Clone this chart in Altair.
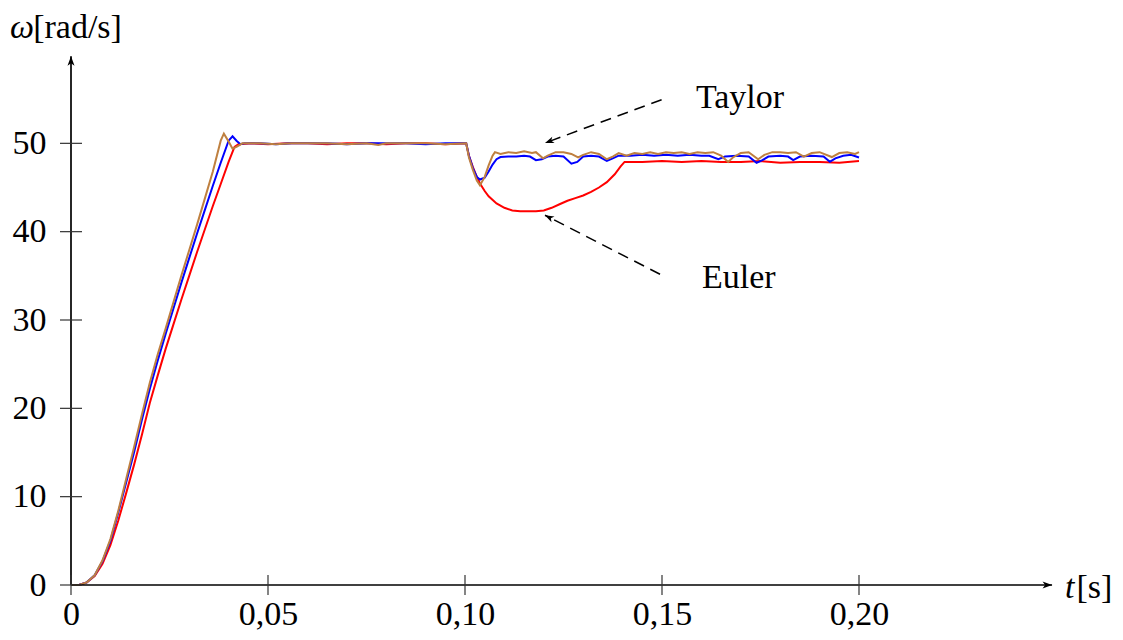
import math
import altair as alt
import pandas as pd

# ---------------- data ----------------
# Euler (red)
t_euler = [0, 0.002, 0.004, 0.006, 0.008, 0.010, 0.012, 0.014, 0.016, 0.018,
           0.020, 0.022, 0.024, 0.026, 0.028, 0.030, 0.032, 0.034, 0.036, 0.038,
           0.040, 0.0415, 0.0425, 0.046, 0.050, 0.055, 0.060, 0.065, 0.070, 0.075,
           0.080, 0.085, 0.090, 0.095, 0.1003, 0.101, 0.102, 0.103, 0.104, 0.105,
           0.106, 0.108, 0.110, 0.112, 0.114, 0.116, 0.118, 0.120, 0.122, 0.124,
           0.126, 0.128, 0.130, 0.132, 0.134, 0.136, 0.138, 0.1395, 0.1405, 0.145,
           0.150, 0.155, 0.160, 0.165, 0.170, 0.175, 0.180, 0.185, 0.190, 0.195,
           0.200]
w_euler = [0, 0, 0.3, 1.0, 2.4, 4.5, 7.3, 10.4, 13.6, 17.0,
           20.6, 23.7, 26.7, 29.5, 32.3, 35.0, 37.7, 40.3, 42.9, 45.4,
           47.9, 49.6, 49.9, 50.0, 49.9, 50.0, 50.0, 49.9, 50.0, 50.0,
           49.9, 50.0, 50.0, 49.9, 50.0, 48.6, 47.3, 46.2, 45.3, 44.6,
           44.0, 43.2, 42.7, 42.4, 42.3, 42.3, 42.3, 42.4, 42.7, 43.1,
           43.5, 43.8, 44.1, 44.5, 45.0, 45.6, 46.5, 47.4, 47.9, 47.9,
           48.0, 47.9, 48.0, 47.9, 47.9, 48.0, 47.8, 47.9, 47.9, 47.8,
           48.0]

# blue
t_blue = [0, 0.002, 0.004, 0.006, 0.008, 0.010, 0.012, 0.014, 0.016, 0.018,
          0.020, 0.022, 0.024, 0.026, 0.028, 0.030, 0.032, 0.034, 0.036, 0.038,
          0.040, 0.041, 0.042, 0.043, 0.044, 0.048, 0.052, 0.056, 0.060, 0.065,
          0.070, 0.075, 0.080, 0.085, 0.090, 0.095, 0.1003, 0.101, 0.102, 0.103,
          0.1038, 0.105, 0.106, 0.107, 0.108, 0.109, 0.111, 0.113, 0.115, 0.1165,
          0.118, 0.1195, 0.121, 0.123, 0.125, 0.127, 0.1285, 0.130, 0.132, 0.134,
          0.136, 0.1375, 0.139, 0.142, 0.145, 0.148, 0.151, 0.154, 0.157, 0.160,
          0.162, 0.1643, 0.166, 0.169, 0.172, 0.174, 0.1755, 0.177, 0.180, 0.182,
          0.1833, 0.185, 0.188, 0.191, 0.1926, 0.194, 0.196, 0.198, 0.200]
w_blue = [0, 0, 0.3, 1.1, 2.7, 5.0, 8.2, 11.6, 15.0, 18.7,
          22.2, 25.4, 28.4, 31.3, 34.2, 37.0, 39.8, 42.5, 45.2, 47.8,
          50.3, 50.8, 50.3, 49.9, 50.0, 50.0, 49.9, 50.0, 50.0, 50.0,
          49.9, 50.0, 50.0, 50.0, 49.9, 50.0, 50.0, 48.6, 47.2, 46.2,
          45.9, 46.1, 46.8, 47.6, 48.2, 48.45, 48.5, 48.5, 48.6, 48.5,
          48.1, 48.2, 48.5, 48.6, 48.5, 47.7, 47.9, 48.5, 48.6, 48.5,
          48.0, 48.3, 48.6, 48.6, 48.7, 48.6, 48.7, 48.6, 48.7, 48.6,
          48.6, 48.2, 48.5, 48.6, 48.5, 47.8, 48.1, 48.5, 48.6, 48.5,
          48.1, 48.5, 48.6, 48.5, 47.9, 48.3, 48.6, 48.7, 48.4]

# brown
t_brown = [0, 0.002, 0.004, 0.006, 0.008, 0.010, 0.012, 0.014, 0.016, 0.018,
           0.020, 0.022, 0.024, 0.026, 0.028, 0.030, 0.032, 0.034, 0.036, 0.038,
           0.0388, 0.040, 0.041, 0.042, 0.0435, 0.048, 0.052, 0.056, 0.060, 0.065,
           0.070, 0.075, 0.078, 0.080, 0.085, 0.090, 0.095, 0.1003, 0.101, 0.102,
           0.103, 0.1038, 0.105, 0.106, 0.107, 0.1076, 0.109, 0.111, 0.113, 0.115,
           0.117, 0.118, 0.1198, 0.121, 0.123, 0.125, 0.127, 0.1287, 0.130, 0.132,
           0.134, 0.136, 0.1375, 0.139, 0.141, 0.143, 0.145, 0.147, 0.149, 0.151,
           0.153, 0.155, 0.157, 0.159, 0.161, 0.163, 0.165, 0.1668, 0.168, 0.170,
           0.172, 0.1744, 0.176, 0.178, 0.180, 0.182, 0.184, 0.186, 0.188, 0.190,
           0.1931, 0.195, 0.197, 0.199, 0.200]
w_brown = [0, 0, 0.3, 1.1, 2.8, 5.2, 8.4, 12.0, 15.6, 19.3,
           22.9, 26.1, 29.0, 32.0, 35.0, 37.9, 40.8, 43.8, 46.8, 50.3,
           51.1, 50.2, 49.4, 49.6, 50.0, 50.0, 49.9, 50.0, 50.0, 50.0,
           49.9, 50.0, 49.8, 50.0, 50.0, 50.0, 49.9, 50.0, 48.4, 47.0,
           45.8, 45.25, 46.2, 47.5, 48.6, 49.0, 48.8, 49.0, 48.9, 49.1,
           48.9, 49.0, 48.3, 48.6, 49.0, 49.0, 48.8, 48.4, 48.7, 49.0,
           48.8, 48.2, 48.5, 48.9, 48.6, 48.9, 48.8, 49.0, 48.8, 49.0,
           48.9, 49.0, 48.8, 49.0, 48.9, 49.0, 48.6, 47.9, 48.4, 48.9,
           49.0, 48.2, 48.7, 49.0, 49.0, 48.9, 49.0, 48.5, 48.9, 49.0,
           48.45, 48.9, 49.0, 48.8, 49.0]

x_ticks = [0, 0.05, 0.10, 0.15, 0.20]
x_tick_labels = ["0", "0,05", "0,10", "0,15", "0,20"]
y_ticks = [0, 10, 20, 30, 40, 50]

# annotation texts and arrows (data coordinates)
ann_text = ["Taylor", "Euler"]
ann_text_t = [0.1698, 0.1695]
ann_text_w = [53.96, 33.6]
arrow_t0 = [0.1499, 0.1495]
arrow_w0 = [54.94, 35.18]
arrow_t1 = [0.1203, 0.1203]
arrow_w1 = [50.04, 41.86]

# ---------------- geometry / style ----------------
T_MAX, W_MAX = 0.25, 60
WIDTH, HEIGHT = 985, 530
FONT = "Liberation Serif"
FS = 34
px_t = WIDTH / T_MAX
px_w = HEIGHT / W_MAX

assert len(t_euler) == len(w_euler)
assert len(t_blue) == len(w_blue)
assert len(t_brown) == len(w_brown)

xs = alt.Scale(domain=[0, T_MAX], nice=False, zero=False)
ys = alt.Scale(domain=[0, W_MAX], nice=False, zero=False)

x_label_expr = "[" + ",".join("'%s'" % s for s in x_tick_labels) + "][round(datum.value / 0.05)]"

xaxis = alt.Axis(values=x_ticks, labelExpr=x_label_expr, title=None, domain=False,
                 ticks=False, grid=False, labelFlush=False, labelPadding=12,
                 labelFont=FONT, labelFontSize=FS, labelColor="black")
yaxis = alt.Axis(values=y_ticks, title=None, domain=False, ticks=False, grid=False,
                 labelFlush=False, labelPadding=25, labelFont=FONT, labelFontSize=FS,
                 labelColor="black")


def series(t, w, color):
    df = pd.DataFrame({"t": t, "w": w})
    return alt.Chart(df).mark_line(color=color, strokeWidth=2, interpolate="linear").encode(
        x=alt.X("t:Q", scale=xs, axis=xaxis),
        y=alt.Y("w:Q", scale=ys, axis=yaxis),
    )


red = series(t_euler, w_euler, "#ff0000")
blue = series(t_blue, w_blue, "#0000ff")
brown = series(t_brown, w_brown, "#bf8040")

# axis lines with arrows
axes_df = pd.DataFrame({"t": [0, 0], "w": [0, 0], "t2": [0.249, 0], "w2": [0, 59.85]})
axis_lines = alt.Chart(axes_df).mark_rule(color="black", strokeWidth=1.7).encode(
    x=alt.X("t:Q", scale=xs), y=alt.Y("w:Q", scale=ys), x2="t2:Q", y2="w2:Q")

ARROW = "M0,0 L0.7,1.9 L0,1.4 L-0.7,1.9 Z"
axis_heads_df = pd.DataFrame({"t": [0.249, 0], "w": [0, 59.85], "ang": [90, 0]})
axis_heads = alt.Chart(axis_heads_df).mark_point(
    shape=ARROW, filled=True, color="black", size=100, opacity=1).encode(
    x=alt.X("t:Q", scale=xs), y=alt.Y("w:Q", scale=ys), angle=alt.Angle("ang:Q", scale=None))

# ticks crossing the axes
xt_df = pd.DataFrame({"t": x_ticks})
x_tick_marks = alt.Chart(xt_df).mark_rule(color="#333333", strokeWidth=1.2, yOffset=-10, y2Offset=10).encode(
    x=alt.X("t:Q", scale=xs), y=alt.datum(0, scale=ys), y2=alt.datum(0))
yt_df = pd.DataFrame({"w": y_ticks})
y_tick_marks = alt.Chart(yt_df).mark_rule(color="#333333", strokeWidth=1.2, xOffset=-11, x2Offset=11).encode(
    y=alt.Y("w:Q", scale=ys), x=alt.datum(0, scale=xs), x2=alt.datum(0))

# dashed annotation arrows
arr_df = pd.DataFrame({"t": arrow_t0, "w": arrow_w0, "t2": arrow_t1, "w2": arrow_w1})
arr_df["ang"] = [
    math.degrees(math.atan2((b - a) * px_t, (d - c) * px_w)) % 360
    for a, b, c, d in zip(arrow_t0, arrow_t1, arrow_w0, arrow_w1)
]
arrow_lines = alt.Chart(arr_df).mark_rule(color="black", strokeWidth=1.5, strokeDash=[11, 7]).encode(
    x=alt.X("t:Q", scale=xs), y=alt.Y("w:Q", scale=ys), x2="t2:Q", y2="w2:Q")
arrow_heads = alt.Chart(arr_df).mark_point(
    shape=ARROW, filled=True, color="black", size=90, opacity=1).encode(
    x=alt.X("t2:Q", scale=xs), y=alt.Y("w2:Q", scale=ys), angle=alt.Angle("ang:Q", scale=None))

ann_df = pd.DataFrame({"label": ann_text, "t": ann_text_t, "w": ann_text_w})
ann_texts = alt.Chart(ann_df).mark_text(font=FONT, fontSize=FS, color="black", align="center",
                                        baseline="alphabetic").encode(
    x=alt.X("t:Q", scale=xs), y=alt.Y("w:Q", scale=ys), text="label:N")

# axis titles (math symbol italic, unit upright)
title_italic_df = pd.DataFrame({"label": ["ω", "t"], "t": [-0.0155, 0.2523], "w": [61.95, -1.45]})
title_upright_df = pd.DataFrame({"label": ["[rad/s]", "[s]"], "t": [-0.0096, 0.2552], "w": [61.95, -1.45]})
titles_i = alt.Chart(title_italic_df).mark_text(font=FONT, fontSize=FS, fontStyle="italic", color="black",
                                                 align="left", baseline="alphabetic").encode(
    x=alt.X("t:Q", scale=xs), y=alt.Y("w:Q", scale=ys), text="label:N")
titles_u = alt.Chart(title_upright_df).mark_text(font=FONT, fontSize=FS, color="black",
                                                  align="left", baseline="alphabetic").encode(
    x=alt.X("t:Q", scale=xs), y=alt.Y("w:Q", scale=ys), text="label:N")

chart = alt.layer(
    red, blue, brown, axis_lines, axis_heads, x_tick_marks, y_tick_marks,
    arrow_lines, arrow_heads, ann_texts, titles_i, titles_u,
).properties(
    width=WIDTH, height=HEIGHT,
    autosize=alt.AutoSizeParams(type="none"),
    padding={"left": 63, "top": 47, "right": 59, "bottom": 47},
    background="white",
).configure_view(stroke=None)

chart.save("out.html", embed_options={"renderer": "svg", "actions": False})
